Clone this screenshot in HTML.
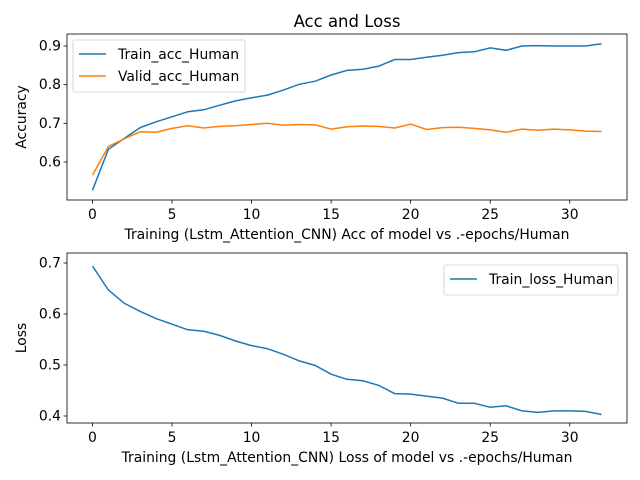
<!DOCTYPE html>
<html><head><meta charset="utf-8"><style>
body{margin:0;background:#fff}
svg{display:block;font-family:"DejaVu Sans","Liberation Sans",sans-serif}
</style></head><body>
<svg id="chart" width="640" height="480"></svg>
<script>
const epochs = Array.from({length:33},(_,i)=>i);
const trainAcc = [0.527,0.633,0.661,0.689,0.704,0.717,0.730,0.735,0.747,0.758,0.766,0.773,0.786,0.801,0.809,0.825,0.837,0.840,0.848,0.865,0.865,0.871,0.876,0.883,0.885,0.895,0.889,0.900,0.901,0.900,0.900,0.900,0.906];
const validAcc = [0.566,0.640,0.660,0.678,0.677,0.687,0.694,0.688,0.692,0.694,0.697,0.700,0.695,0.697,0.696,0.685,0.691,0.693,0.692,0.688,0.698,0.684,0.689,0.690,0.687,0.683,0.677,0.685,0.682,0.685,0.683,0.680,0.679];
const trainLoss = [0.694,0.647,0.621,0.605,0.591,0.580,0.569,0.566,0.558,0.547,0.538,0.532,0.521,0.508,0.499,0.482,0.472,0.469,0.460,0.444,0.443,0.439,0.435,0.425,0.425,0.417,0.420,0.410,0.407,0.410,0.410,0.409,0.403];
const xTicks = [0,5,10,15,20,25,30];
const accTicks = [0.6,0.7,0.8,0.9];
const lossTicks = [0.4,0.5,0.6,0.7];

const svg = document.getElementById('chart');
const NS = 'http://www.w3.org/2000/svg';
function mk(tag, attrs, parent){const e=document.createElementNS(NS,tag);for(const k in attrs)e.setAttribute(k,attrs[k]);(parent||svg).appendChild(e);return e;}
const L=67,R=627,FS=13.9;
const xs = v => L + (v+1.6)/35.2*(R-L);

function panel(top,bottom,y0v,y0p,y1v,y1p,ticks,yLabel,xLabel,series,legend,name){
  const ys = v => y0p + (v-y0v)/(y1v-y0v)*(y1p-y0p);
  const g = mk('g',{});
  
  
  series.forEach(s=>{
    const p = mk('polyline',{points:s.data.map((v,i)=>xs(epochs[i]).toFixed(1)+','+ys(v).toFixed(1)).join(' '),fill:'none',stroke:s.color,'stroke-width':1.5},g);
    
    
  });
  const box = mk('rect',{x:L,y:top,width:R-L,height:bottom-top,fill:'none',stroke:'#000','stroke-width':0.8},g);
  
  
  xTicks.forEach(t=>{
    mk('line',{x1:xs(t),x2:xs(t),y1:bottom,y2:bottom+3.5,stroke:'#000','stroke-width':0.8},g);
    const tx = mk('text',{x:xs(t),y:bottom+19,'font-size':FS,'text-anchor':'middle'},g);
    tx.textContent=t;
    
    
  });
  ticks.forEach(t=>{
    mk('line',{x1:L-3.5,x2:L,y1:ys(t),y2:ys(t),stroke:'#000','stroke-width':0.8},g);
    const tx = mk('text',{x:L-6,y:ys(t)+4.5,'font-size':FS,'text-anchor':'end'},g);
    tx.textContent=t.toFixed(1);
    
    
  });
  const xl = mk('text',{x:(L+R)/2,y:bottom+39,'font-size':FS,'text-anchor':'middle'},g);
  xl.textContent=xLabel;
  
  
  const yl = mk('text',{x:0,y:0,'font-size':FS,'text-anchor':'middle',transform:`translate(26,${(top+bottom)/2}) rotate(-90)`},g);
  yl.textContent=yLabel;
  
  
  const lg = mk('g',{},g);
  
  
  mk('rect',{x:legend.x,y:legend.y,width:legend.w,height:8+legend.items.length*22,rx:2,fill:'#fff','fill-opacity':0.8,stroke:'#ccc','stroke-width':0.8},lg);
  legend.items.forEach((it,i)=>{
    const cy = legend.y+14+i*22;
    mk('line',{x1:legend.x+6,x2:legend.x+33,y1:cy,y2:cy,stroke:it.color,'stroke-width':1.5},lg);
    const tx = mk('text',{x:legend.x+45,y:cy+5,'font-size':FS},lg);
    tx.textContent=it.label;
    
    
  });
}

const title = mk('text',{x:(L+R)/2,y:27,'font-size':16.5,'text-anchor':'middle'});
title.textContent='Acc and Loss';



panel(34,200,0.9,46,0.6,162,accTicks,'Accuracy','Training (Lstm_Attention_CNN) Acc of model vs .-epochs/Human',
  [{data:trainAcc,color:'#1f77b4',name:'train-acc-line'},{data:validAcc,color:'#ff7f0e',name:'valid-acc-line'}],
  {x:73,y:40,w:172,items:[{label:'Train_acc_Human',color:'#1f77b4'},{label:'Valid_acc_Human',color:'#ff7f0e'}]},'accuracy-panel');

panel(253,423,0.7,263,0.4,416,lossTicks,'Loss','Training (Lstm_Attention_CNN) Loss of model vs .-epochs/Human',
  [{data:trainLoss,color:'#1f77b4',name:'train-loss-line'}],
  {x:444,y:265,w:174,items:[{label:'Train_loss_Human',color:'#1f77b4'}]},'loss-panel');
</script>
</body></html>
